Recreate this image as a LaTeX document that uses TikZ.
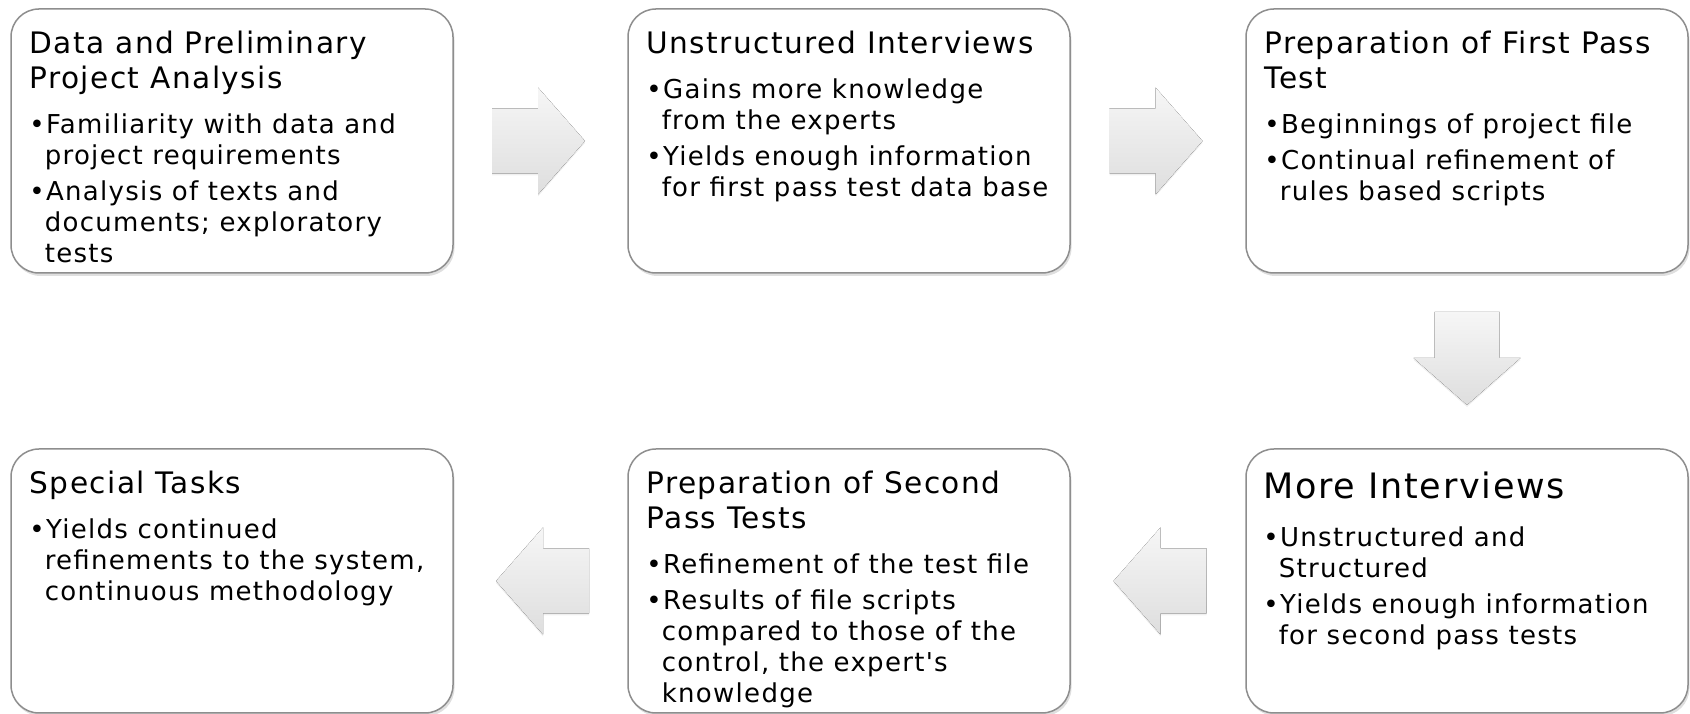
\documentclass[tikz,border=0pt]{standalone}
\usepackage{fontspec}
\newfontfamily\smartfont{DejaVu Sans}[LetterSpace=5]
\usepackage{xcolor}
\usetikzlibrary{positioning, calc, shadows}

\definecolor{boxline}{HTML}{8E8E8E}
\definecolor{arrtop}{HTML}{F6F6F6}
\definecolor{arrbot}{HTML}{DEDEDE}

\tikzset{
    box/.style={draw=boxline, line width=1.5pt, rounded corners=28pt, fill=white,
        minimum width=442pt, minimum height=264pt, inner sep=0pt,
        drop shadow={shadow xshift=1.5pt, shadow yshift=-3pt, opacity=0.25}},
    ttl/.style={inner sep=0pt, align=left, font=\smartfont\fontsize{29.6}{35}\selectfont},
    bigttl/.style={ttl, font=\smartfont\fontsize{35}{40}\selectfont},
    body/.style={inner sep=0pt, align=left, font=\smartfont\fontsize{26}{31}\selectfont},
    flowarrow/.pic={
        \fill[top color=arrtop, bottom color=arrbot,
            drop shadow={shadow xshift=0pt, shadow yshift=-2pt, opacity=0.12}]
            (-46.5,-32.5) -- (-0.5,-32.5) -- (-0.5,-53.5) -- (46.5,0)
            -- (-0.5,53.5) -- (-0.5,32.5) -- (-46.5,32.5) -- cycle;
    }
}

\begin{document}
\begin{tikzpicture}[x=1pt, y=1pt]
    \useasboundingbox (0,0) rectangle (1690,714);

    \node[box] (b1) at (232, 573) {};
    \node[box] (b2) at (849, 573) {};
    \node[box] (b3) at (1467, 573) {};
    \node[box] (b4) at (1467, 133) {};
    \node[box] (b5) at (849, 133) {};
    \node[box] (b6) at (232, 133) {};

    \node[ttl, below right=20.5pt and 19pt of b1.north west] (t1) {\strut Data and Preliminary\\Project Analysis\strut};
    \node[body, below right=12pt and 0pt of t1.south west] (d1) {\strut•Familiarity with data and\\\phantom{•}project requirements\\[5pt]•Analysis of texts and\\\phantom{•}documents; exploratory\\\phantom{•}tests};

    \node[ttl, below right=20.5pt and 19pt of b2.north west] (t2) {\strut Unstructured Interviews\strut};
    \node[body, below right=12pt and 0pt of t2.south west] (d2) {\strut•Gains more knowledge\\\phantom{•}from the experts\\[5pt]•Yields enough information\\\phantom{•}for first pass test data base};

    \node[ttl, below right=20.5pt and 19pt of b3.north west] (t3) {\strut Preparation of First Pass\\Test\strut};
    \node[body, below right=12pt and 0pt of t3.south west] (d3) {\strut•Beginnings of project file\\[5pt]•Continual refinement of\\\phantom{•}rules based scripts};

    \node[bigttl, below right=22pt and 18pt of b4.north west] (t4) {\strut More Interviews\strut};
    \node[body, below right=14pt and 0pt of t4.south west] (d4) {\strut•Unstructured and\\\phantom{•}Structured\\[5pt]•Yields enough information\\\phantom{•}for second pass tests};

    \node[ttl, below right=20.5pt and 19pt of b5.north west] (t5) {\strut Preparation of Second\\Pass Tests\strut};
    \node[body, below right=12pt and 0pt of t5.south west] (d5) {\strut•Refinement of the test file\\[5pt]•Results of file scripts\\\phantom{•}compared to those of the\\\phantom{•}control, the expert's\\\phantom{•}knowledge};

    \node[ttl, below right=20.5pt and 19pt of b6.north west] (t6) {\strut Special Tasks\strut};
    \node[body, below right=12pt and 0pt of t6.south west] (d6) {\strut•Yields continued\\\phantom{•}refinements to the system,\\\phantom{•}continuous methodology};

    \coordinate (m12) at ($(b1.east)!0.5!(b2.west)$);
    \coordinate (m23) at ($(b2.east)!0.5!(b3.west)$);
    \coordinate (m34) at ($(b3.south)!0.5!(b4.north)$);
    \coordinate (m45) at ($(b4.west)!0.5!(b5.east)$);
    \coordinate (m56) at ($(b5.west)!0.5!(b6.east)$);

    \pic at ([xshift=-2pt]m12) {flowarrow};
    \pic at ([xshift=-2pt]m23) {flowarrow};
    \pic[rotate=-90] at ([yshift=2.5pt]m34) {flowarrow};
    \pic[xscale=-1] at ([xshift=2pt]m45) {flowarrow};
    \pic[xscale=-1] at ([xshift=2pt]m56) {flowarrow};
\end{tikzpicture}
\end{document}
